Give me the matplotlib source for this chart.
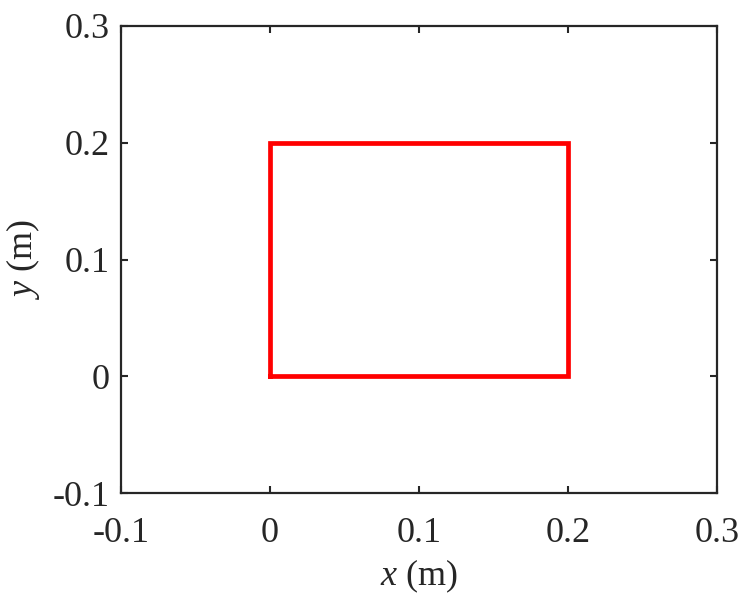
import matplotlib
matplotlib.use("Agg")
import matplotlib.pyplot as plt

# rectangle path (m)
x_pts = [0, 0.2, 0.2, 0, 0]
y_pts = [0, 0, 0.2, 0.2, 0]
ticks = [-0.1, 0, 0.1, 0.2, 0.3]
tick_labels = ["-0.1", "0", "0.1", "0.2", "0.3"]

plt.rcParams['font.family'] = ['Liberation Serif', 'DejaVu Serif']
plt.rcParams['mathtext.fontset'] = 'custom'
plt.rcParams['mathtext.rm'] = 'Liberation Serif'
plt.rcParams['mathtext.it'] = 'Liberation Serif:italic'

fig = plt.figure(figsize=(7.47, 6.0), dpi=100)
ax = fig.add_axes([0.162, 0.178, 0.798, 0.779])
ax.plot(x_pts, y_pts, color='#ff0000', lw=3.4, solid_joinstyle='miter')

ax.set_xlim(-0.1, 0.3)
ax.set_ylim(-0.1, 0.3)
ax.set_xticks(ticks)
ax.set_xticklabels(tick_labels)
ax.set_yticks(ticks)
ax.set_yticklabels(tick_labels)
ax.tick_params(direction='in', length=5, width=1.5, top=True, right=True,
               labelsize=26, colors='#262626', pad=8)
ax.tick_params(axis='x', pad=17)
for s in ax.spines.values():
    s.set_linewidth(1.6)
    s.set_color('#262626')

ax.set_xlabel(r'$x$ (m)', fontsize=26, color='#262626', labelpad=6)
ax.set_ylabel(r'$y$ (m)', fontsize=26, color='#262626', labelpad=8)

fig.savefig('out.png', dpi=100)
